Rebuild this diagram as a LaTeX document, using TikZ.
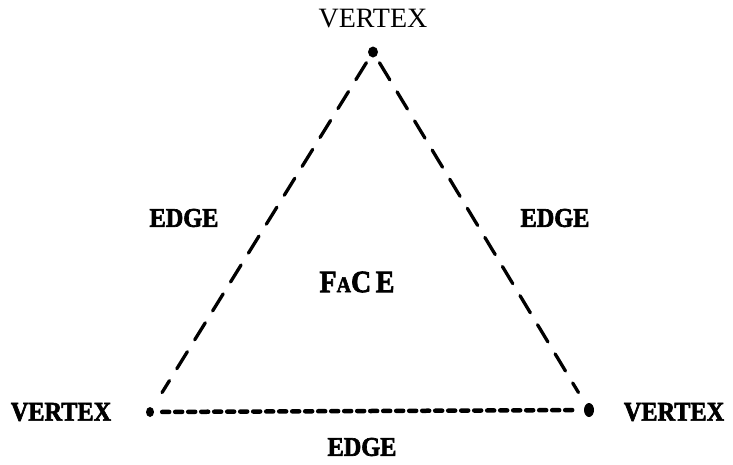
\documentclass[tikz,border=0pt]{standalone}
\usepackage{fontspec}
\setmainfont{Liberation Serif}
\newfontfamily\heavyfont[FakeBold=2.5]{Liberation Serif Bold}
\usepackage{graphicx}
\usetikzlibrary{positioning, calc}
\definecolor{mink}{HTML}{000000}
\tikzset{
  vdot/.style={ellipse, fill=mink, inner sep=0pt, minimum width=10pt, minimum height=11pt},
  toplbl/.style={font=\fontsize{28}{30}\selectfont, text=mink, inner sep=0pt},
  boldlbl/.style={font=\fontsize{27}{29}\selectfont\heavyfont, text=mink, inner sep=0pt,
                  xscale=0.9},
  sedge/.style={line width=3.3pt, dash pattern=on 20pt off 14pt, line cap=round, mink},
  bedge/.style={line width=4.5pt, dash pattern=on 7pt off 6pt, line cap=round, mink},
}
\usetikzlibrary{shapes.geometric}

\begin{document}
\begin{tikzpicture}[x=1pt, y=-1pt]
  \useasboundingbox (0,0) rectangle (733,464);
  % vertices
  \node[vdot] (vtop) at (373,52) {};
  \node[vdot, minimum width=8pt, minimum height=10pt] (vleft) at (150,412) {};
  \node[vdot, minimum width=10pt, minimum height=14pt] (vright) at (589,410) {};
  % edges
  \draw[sedge, shorten <=7pt, shorten >=18pt] (vtop) -- (vleft);
  \draw[sedge, shorten <=7pt, shorten >=14pt] (vtop) -- (vright);
  \draw[bedge, shorten <=8pt, shorten >=6pt] (vleft) -- (vright);
  % labels
  \node[toplbl] (ltop) at (373,19) {VERTEX};
  \node[boldlbl] (lleft) at (61,412) {VERTEX};
  \node[boldlbl] (lright) at (674,412) {VERTEX};
  \node[boldlbl] (eleft) at (184,218) {EDGE};
  \node[boldlbl] (eright) at (555,218) {EDGE};
  \node[boldlbl] (ebottom) at (362,447) {EDGE};
  \node[boldlbl, font=\fontsize{31}{33}\selectfont\heavyfont] (face) at (357,282)
    {F\scalebox{0.72}{A}C\,E};
\end{tikzpicture}
\end{document}
